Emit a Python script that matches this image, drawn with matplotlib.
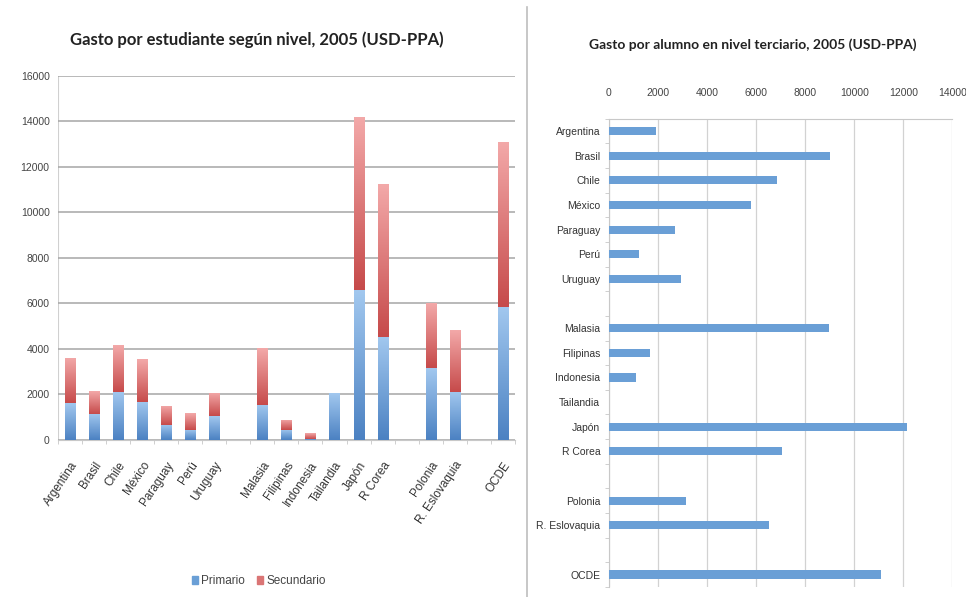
import matplotlib.pyplot as plt
import numpy as np
from matplotlib.colors import LinearSegmentedColormap
from matplotlib.patches import Patch

# categories, blank entries are spacer slots between country groups
paises = ['Argentina', 'Brasil', 'Chile', 'México', 'Paraguay', 'Perú', 'Uruguay', '',
          'Malasia', 'Filipinas', 'Indonesia', 'Tailandia', 'Japón', 'R Corea', '',
          'Polonia', 'R. Eslovaquia', '', 'OCDE']
paises_h = ['Argentina', 'Brasil', 'Chile', 'México', 'Paraguay', 'Perú', 'Uruguay', '',
            'Malasia', 'Filipinas', 'Indonesia', 'Tailandia', 'Japón', 'R Corea', '',
            'Polonia', 'R. Eslovaquia', '', 'OCDE']

nan = np.nan
primario = [1610, 1150, 2120, 1680, 660, 440, 1050, nan,
            1540, 450, 60, 2050, 6590, 4540, nan,
            3150, 2120, nan, 5860]
secundario = [1990, 1000, 2050, 1880, 840, 730, 1030, nan,
              2480, 450, 260, 0, 7580, 6700, nan,
              2850, 2710, nan, 7240]
terciario = [1950, 9000, 6850, 5780, 2700, 1230, 2960, nan,
             8970, 1700, 1100, nan, 12150, 7060, nan,
             3160, 6530, nan, 11080]

azul = '#6a9fd6'
rojo = '#da7575'
gris = '#a6a6a6'
narrow = ['Liberation Sans Narrow', 'Liberation Sans', 'DejaVu Sans']


def gradient_fill(ax, bars, c_low, c_high):
    # replace flat bar faces by a vertical colour ramp clipped to each bar
    cmap = LinearSegmentedColormap.from_list('ramp', [c_low, c_high])
    grad = np.linspace(0, 1, 256).reshape(-1, 1)
    for b in bars:
        x0, y0 = b.get_xy()
        w, h = b.get_width(), b.get_height()
        if not np.isfinite(h) or h <= 0:
            continue
        im = ax.imshow(grad, extent=[x0, x0 + w, y0, y0 + h], origin='lower',
                       aspect='auto', cmap=cmap, zorder=3, interpolation='bilinear')
        im.set_clip_path(b)
        b.set_facecolor('none')
        b.set_edgecolor('none')


fig = plt.figure(figsize=(9.66, 5.97), dpi=100)

# stacked bars: primary + secondary
ax1 = fig.add_axes([0.060, 0.263, 0.473, 0.610])
x = np.arange(len(paises))
prim = np.array(primario, dtype=float)
sec = np.array(secundario, dtype=float)
b1 = ax1.bar(x, prim, width=0.42, color=azul, zorder=3)
b2 = ax1.bar(x, sec, width=0.42, bottom=prim, color=rojo, zorder=3)
gradient_fill(ax1, b1, '#4b81c2', '#a2c8ef')
gradient_fill(ax1, b2, '#c64a4a', '#f3a9a9')
ax1.set_xlim(-0.5, len(paises) - 0.5)
ax1.set_ylim(0, 16000)
ax1.set_yticks(np.arange(0, 16001, 2000))
ax1.grid(axis='y', color=gris, lw=1.1, zorder=0)
ax1.set_xticks(x)
ax1.set_xticklabels(paises, rotation=56, ha='right', rotation_mode='anchor',
                    fontsize=8.5, family=narrow, color='#333333')
ax1.set_xticks(np.arange(-0.5, len(paises), 1), minor=True)
ax1.tick_params(axis='x', which='major', length=0, pad=14)
ax1.tick_params(axis='x', which='minor', length=3, color='#c8c8c8')
ax1.tick_params(axis='y', length=0, labelsize=7.5, labelcolor='#444444', pad=6)
for lab in ax1.get_yticklabels():
    lab.set_family(narrow)
for s in ['top', 'right', 'left']:
    ax1.spines[s].set_visible(False)
ax1.spines['bottom'].set_color('#c8c8c8')
ax1.axvline(-0.5, color='#d0d0d0', lw=0.8, zorder=1)
ax1.set_title('Gasto por estudiante según nivel, 2005 (USD-PPA)', family='Lato',
              fontweight='bold', fontsize=12, color='#222222', pad=22, x=0.435)
handles = [Patch(color=azul, label='Primario'), Patch(color=rojo, label='Secundario')]
leg = ax1.legend(handles=handles, loc='upper center', bbox_to_anchor=(0.44, -0.342),
                 ncol=2, frameon=False, handlelength=0.5, handleheight=0.6,
                 handletextpad=0.3, columnspacing=1.0,
                 prop={'family': narrow, 'size': 8.5})
for t in leg.get_texts():
    t.set_color('#444444')

# horizontal bars: tertiary
ax2 = fig.add_axes([0.630, 0.017, 0.356, 0.784])
y = np.arange(len(paises_h))
ax2.barh(y, np.array(terciario, dtype=float), height=0.33, color=azul, zorder=3)
ax2.set_ylim(len(paises_h) - 0.5, -0.5)
ax2.set_xlim(0, 14000)
ax2.set_xticks(np.arange(0, 14001, 2000))
ax2.xaxis.tick_top()
ax2.grid(axis='x', color='#d2d2d2', lw=0.9, zorder=0)
ax2.set_yticks(y)
ax2.set_yticklabels(paises_h, fontsize=7.5, family=narrow, color='#333333')
ax2.set_yticks(np.arange(-0.5, len(paises_h), 1), minor=True)
ax2.tick_params(axis='y', which='major', length=0, pad=6)
ax2.tick_params(axis='y', which='minor', length=3, color='#c8c8c8')
ax2.tick_params(axis='x', length=0, labelsize=7.5, labelcolor='#444444', pad=15)
for lab in ax2.get_xticklabels():
    lab.set_family(narrow)
for s in ['right', 'bottom']:
    ax2.spines[s].set_visible(False)
ax2.spines['left'].set_color('#c8c8c8')
ax2.spines['top'].set_color('#c8c8c8')
ax2.set_title('Gasto por alumno en nivel terciario, 2005 (USD-PPA)', family='Lato',
              fontweight='bold', fontsize=10, color='#222222', pad=50, x=0.42)

# panel divider
fig.add_artist(plt.Line2D([527 / 966, 527 / 966], [0, 1 - 7 / 597],
                          transform=fig.transFigure, color='#bdbdbd', lw=1.2))

fig.savefig('out.png', dpi=100)
